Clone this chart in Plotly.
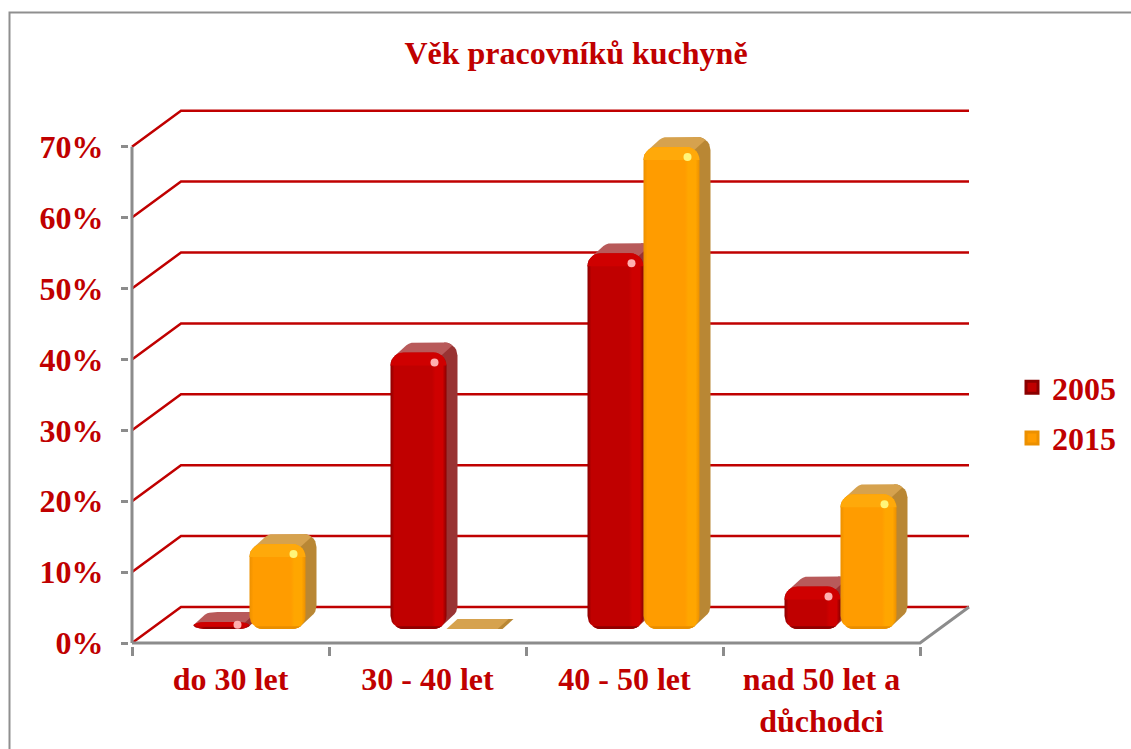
import numpy as np
import plotly.graph_objects as go

TITLE = "Věk pracovníků kuchyně"
CATEGORIES = ["do 30 let", "30 - 40 let", "40 - 50 let", "nad 50 let a<br>důchodci"]
SERIES_NAMES = ["2005", "2015"]
VALUES_2005 = [1, 39, 53, 6]
VALUES_2015 = [12, 0, 68, 19]
Y_TICKS = [0, 10, 20, 30, 40, 50, 60, 70]
Y_LABELS = ["0%", "10%", "20%", "30%", "40%", "50%", "60%", "70%"]

# ---- styling / projection constants (pixels of the target layout) ----
W, H = 1131, 749
L_PX, R_PX, T_PX, B_PX = 132, 980, 100, 643   # position of the axis origin, and free plot edges
EDGE = 3                                      # spare pixels so the axis lines are not clipped
PX_PER_CAT = 197.0
PX_PER_PCT = 7.09
BACK_DX, BACK_DY = 49, 36      # back wall offset
BAR_DX, BAR_DY = 19, 14        # front plane of the bars relative to the axis
DEPTH_DX, DEPTH_DY = 11, 10    # bar depth
BAR_W = 56
RADIUS = 13
RED = "#C00000"
GREY = "#8C8C8C"
TEXT_FONT = "Liberation Serif"

STYLES = [
    dict(main="#C00000", edge="#8A0000", light="#CE0000", bevel="#CF0000", side="#993333", top="#B85A5A", glint="#FFB0B0", low="#8F0000"),
    dict(main="#FF9C00", edge="#EC9000", light="#FFA600", bevel="#FFA90A", side="#B98734", top="#D6A24E", glint="#FFF57A", low="#E88E00"),
]


def ux(px):
    return px / PX_PER_CAT


def uy(px):
    return px / PX_PER_PCT


def arc(cx, cy, rx, ry, a0, a1, n=8):
    t = np.radians(np.linspace(a0, a1, n))
    return [(cx + rx * np.cos(a), cy + ry * np.sin(a)) for a in t]


def hull(points):
    pts = sorted(set((round(float(x), 6), round(float(y), 6)) for x, y in points))
    if len(pts) < 3:
        return pts

    def cross(o, a, b):
        return (a[0] - o[0]) * (b[1] - o[1]) - (a[1] - o[1]) * (b[0] - o[0])

    lower, upper = [], []
    for p in pts:
        while len(lower) >= 2 and cross(lower[-2], lower[-1], p) <= 0:
            lower.pop()
        lower.append(p)
    for p in reversed(pts):
        while len(upper) >= 2 and cross(upper[-2], upper[-1], p) <= 0:
            upper.pop()
        upper.append(p)
    return lower[:-1] + upper[:-1]


def polygon(points, color=None, z=1, gradient=None):
    h = hull(points)
    h = h + h[:1]
    kw = dict(fillcolor=color) if gradient is None else dict(fillgradient=gradient)
    return go.Scatter(
        x=[p[0] for p in h], y=[p[1] for p in h], mode="lines", fill="toself",
        line=dict(width=0), hoverinfo="skip", showlegend=False, zorder=z, cliponaxis=False, **kw
    )


def corners(left, right, bottom, top, dx=0.0, dy=0.0):
    """Arcs of a rounded rectangle, in data units, optionally pushed back in depth."""
    rx = ux(RADIUS)
    ry = min(uy(RADIUS), (top - bottom) / 2)
    ox, oy = ux(dx), uy(dy)
    return dict(
        tl=arc(left + rx + ox, top - ry + oy, rx, ry, 90, 180),
        tr=arc(right - rx + ox, top - ry + oy, rx, ry, 0, 90),
        bl=arc(left + rx + ox, bottom + ry + oy, rx, ry, 180, 270),
        br=arc(right - rx + ox, bottom + ry + oy, rx, ry, 270, 360),
    )


fig = go.Figure()

# Back wall and connecting grid lines
grid_x, grid_y = [], []
for v in Y_TICKS:
    grid_x += [0, ux(BACK_DX), len(CATEGORIES) + ux(BACK_DX), None]
    grid_y += [v, v + uy(BACK_DY), v + uy(BACK_DY), None]
fig.add_trace(go.Scatter(x=grid_x, y=grid_y, mode="lines", line=dict(color=RED, width=2.5),
                         hoverinfo="skip", showlegend=False, zorder=0, cliponaxis=False))

# Axis frame
fig.add_trace(go.Scatter(
    x=[0, 0, None, 0, len(CATEGORIES), len(CATEGORIES) + ux(BACK_DX)],
    y=[0, Y_TICKS[-1], None, 0, 0, uy(BACK_DY)],
    mode="lines", line=dict(color=GREY, width=3), hoverinfo="skip", showlegend=False,
    zorder=1, cliponaxis=False))

base = uy(BAR_DY)
core_inset = uy(2.5)
bar_w = ux(BAR_W)
offset = ux(BAR_DX)

for s, (name, vals) in enumerate(zip(SERIES_NAMES, [VALUES_2005, VALUES_2015])):
    st = STYLES[s]
    z0 = 3 + s * 10
    centres = [i + 0.5 + offset + (s - 0.5) * bar_w for i in range(len(CATEGORIES))]
    # Core bars: the actual data marks, and the legend swatch (kept inside the rounded faces)
    fig.add_trace(go.Bar(
        x=centres, y=[max(v - core_inset, 0) for v in vals],
        base=[base + core_inset] * len(vals), width=bar_w - 2 * ux(RADIUS), name=name,
        marker=dict(color=st["main"], line=dict(color=st["edge"], width=3)),
        legendgroup=name, zorder=z0 - 1, hoverinfo="skip"))
    for c, v in zip(centres, vals):
        left, right = c - bar_w / 2, c + bar_w / 2
        bottom, top = base, base + v
        f = corners(left, right, bottom, top)
        b = corners(left, right, bottom, top, DEPTH_DX, DEPTH_DY)
        # side face
        fig.add_trace(polygon(f["tr"] + b["tr"] + f["br"] + b["br"], st["side"], z0))
        # top face
        fig.add_trace(polygon(
            f["tl"] + b["tl"] + b["tr"][len(b["tr"]) // 2:] + f["tr"][len(f["tr"]) // 2:],
            st["top"], z0 + 1))
        if v <= 0:
            continue
        # front face, with the bevel shading
        fig.add_trace(polygon(
            f["tl"] + f["tr"] + f["bl"] + f["br"], z=z0 + 6,
            gradient=dict(type="horizontal", colorscale=[
                [0, st["edge"]], [0.07, st["main"]], [0.74, st["main"]],
                [0.8, st["light"]], [0.93, st["light"]], [1, st["edge"]]])))
        bevel_h = min(uy(13), v * 0.6)
        fig.add_trace(polygon(
            f["tl"] + f["tr"] + [(left + ux(5), top - bevel_h), (right - ux(5), top - bevel_h)],
            st["bevel"], z0 + 7))
        low = corners(left, right, bottom, min(top, bottom + uy(26)))
        fig.add_trace(polygon(
            low["bl"][4:] + low["br"][:4] + [(left + ux(12), bottom + uy(2)), (right - ux(12), bottom + uy(2))],
            st["low"], z0 + 7))
        # specular glint
        fig.add_trace(go.Scatter(
            x=[right - ux(12)], y=[top - min(uy(10), v * 0.4)], mode="markers",
            marker=dict(symbol="circle", size=8, color=st["glint"], line=dict(width=0)),
            hoverinfo="skip", showlegend=False, zorder=z0 + 8, cliponaxis=False))

plot_l, plot_b = L_PX - EDGE, B_PX + EDGE
plot_w, plot_h = R_PX - plot_l, plot_b - T_PX

fig.update_layout(
    width=W, height=H, autosize=False,
    margin=dict(l=plot_l, r=W - R_PX, t=T_PX, b=H - plot_b, pad=0),
    paper_bgcolor="white", plot_bgcolor="white",
    font=dict(family=TEXT_FONT, color=RED),
    barmode="overlay",
    showlegend=True,
    title=dict(text=f"<b>{TITLE}</b>", x=576 / W, xanchor="center", y=1 - 53 / H, yanchor="middle",
               xref="container", yref="container", font=dict(family=TEXT_FONT, size=32, color=RED)),
    xaxis=dict(
        automargin=False,
        range=[ux(-EDGE), (R_PX - L_PX) / PX_PER_CAT], showgrid=False, zeroline=False, showline=False,
        tickmode="array", tickvals=[i + 0.5 for i in range(len(CATEGORIES))],
        ticktext=[f"<b>{c}</b>" for c in CATEGORIES], ticks="", ticklabelstandoff=11,
        tickfont=dict(family=TEXT_FONT, size=32, color=RED),
        minor=dict(tickmode="array", tickvals=list(range(len(CATEGORIES) + 1)), ticks="outside",
                   ticklen=9, tickwidth=2.5, tickcolor=GREY, showgrid=False),
    ),
    yaxis=dict(
        automargin=False,
        range=[uy(-EDGE), (B_PX - T_PX) / PX_PER_PCT], showgrid=False, zeroline=False, showline=False,
        tickmode="array", tickvals=Y_TICKS, ticktext=[f"<b>{t}</b>" for t in Y_LABELS],
        ticks="outside", ticklen=7, tickwidth=2.5, tickcolor=GREY, ticklabelstandoff=11,
        tickfont=dict(family=TEXT_FONT, size=32, color=RED),
    ),
    legend=dict(
        xref="container", yref="container",
        x=1012 / W, xanchor="left", y=1 - 360 / H, yanchor="top",
        font=dict(family=TEXT_FONT, size=32, color=RED, weight="bold"), bgcolor="rgba(0,0,0,0)",
        itemwidth=30, tracegroupgap=6, traceorder="grouped",
    ),
    shapes=[dict(type="rect", xref="paper", yref="paper", layer="below",
                 x0=(9.5 - plot_l) / plot_w, x1=(W + 20 - plot_l) / plot_w,
                 y0=(plot_b - H - 20) / plot_h, y1=(plot_b - 12.5) / plot_h,
                 line=dict(color="#8F8F8F", width=2), fillcolor="rgba(0,0,0,0)")],
)

fig.write_html("out.html", config=dict(displayModeBar=False),
               post_script="document.body.style.margin='0';")
